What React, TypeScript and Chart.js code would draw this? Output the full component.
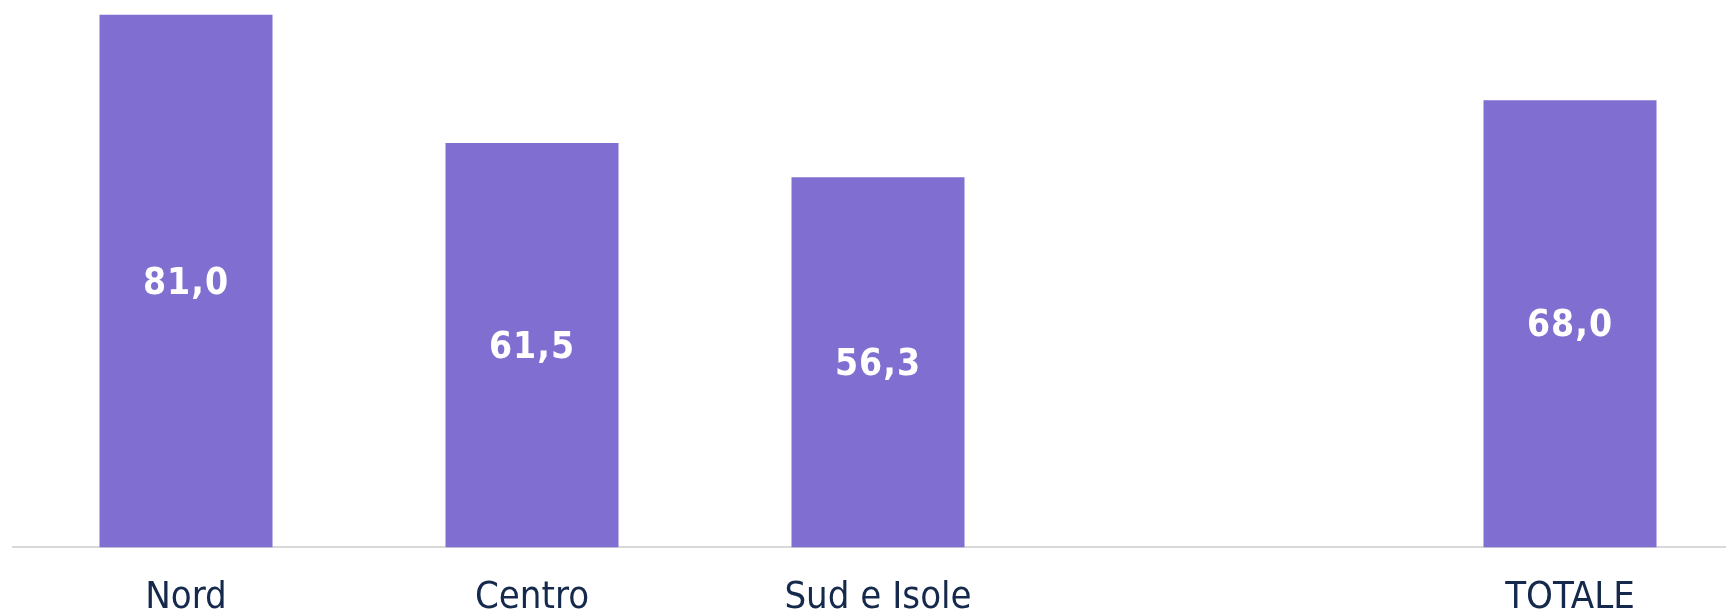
import React, { useEffect, useRef } from "react";
import { Chart, registerables } from "chart.js";

Chart.register(...registerables);

const categories: string[] = ["Nord", "Centro", "Sud e Isole", "", "TOTALE"];
const values: (number | null)[] = [81.0, 61.5, 56.3, null, 68.0];

const BAR_COLOR = "#806ED0";
const TEXT_COLOR = "#14294B";
const FONT_FAMILY = "'DejaVu Sans Condensed', 'DejaVu Sans', sans-serif";

const valueLabelPlugin = {
  id: "valueLabels",
  afterDatasetsDraw(chart: any) {
    const ctx = chart.ctx;
    const meta = chart.getDatasetMeta(0);
    ctx.save();
    ctx.fillStyle = "#FFFFFF";
    ctx.font = `bold 37px ${FONT_FAMILY}`;
    try {
      (ctx as any).letterSpacing = "1px";
    } catch (e) {}
    ctx.textAlign = "center";
    ctx.textBaseline = "middle";
    meta.data.forEach((bar: any, i: number) => {
      const v = values[i];
      if (v === null || v === undefined) return;
      const props = bar.getProps(["x", "y", "base"], true);
      const cy = (props.y + props.base) / 2 + 3;
      ctx.fillText(v.toFixed(1).replace(".", ","), props.x, cy);
    });
    ctx.restore();
  },
};

export default function App() {
  const canvasRef = useRef<HTMLCanvasElement | null>(null);

  useEffect(() => {
    if (!canvasRef.current) return;
    const chart = new Chart(canvasRef.current, {
      type: "bar",
      data: {
        labels: categories,
        datasets: [
          {
            data: values,
            backgroundColor: BAR_COLOR,
            borderWidth: 0,
            categoryPercentage: 0.5,
            barPercentage: 1,
          },
        ],
      },
      options: {
        responsive: false,
        animation: false,
        devicePixelRatio: 1,
        layout: { padding: { left: 13, right: 2, top: 5, bottom: 0 } },
        plugins: {
          legend: { display: false },
          tooltip: { enabled: false },
          title: { display: false },
        },
        scales: {
          x: {
            grid: { display: false, drawTicks: false },
            border: { display: true, color: "#D9D9D9", width: 2 },
            ticks: {
              color: TEXT_COLOR,
              font: { family: FONT_FAMILY, size: 38 },
              padding: 28,
              maxRotation: 0,
              autoSkip: false,
            },
          },
          y: {
            display: false,
            min: 0,
            max: 82.5,
          },
        },
      },
      plugins: [valueLabelPlugin],
    });
    return () => chart.destroy();
  }, []);

  return (
    <div
      style={{
        position: "absolute",
        left: 0,
        top: 0,
        width: 1726,
        height: 616,
        overflow: "hidden",
        background: "#FFFFFF",
      }}
    >
      <canvas
        ref={canvasRef}
        width={1745}
        height={649}
        style={{ display: "block", width: 1745, height: 649 }}
      />
    </div>
  );
}
